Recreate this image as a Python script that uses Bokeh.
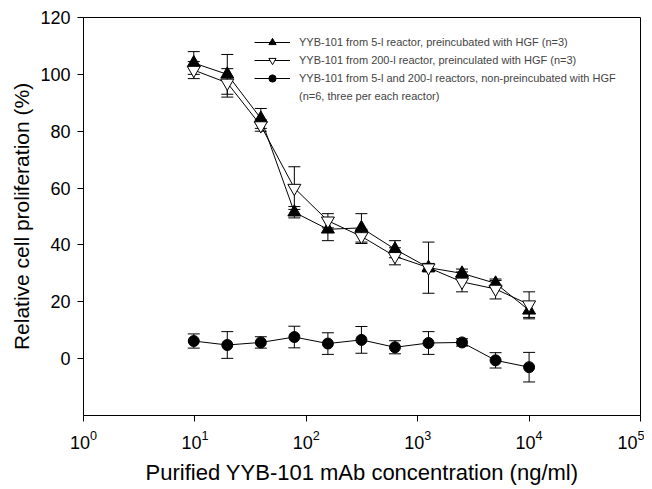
from bokeh.plotting import figure
from bokeh.models import ColumnDataSource, Whisker, TeeHead, FixedTicker, Range1d, Legend, LegendItem
from bokeh.embed import file_html
from bokeh.resources import INLINE

conc = [9.77, 19.53, 39.06, 78.125, 156.25, 312.5, 625, 1250, 2500, 5000, 10000]

s5_mean = [104, 100, 84.5, 51.5, 45.5, 46, 38.5, 32, 30, 26.5, 17]
s5_err = [4, 7, 3.5, 2, 4, 5, 3, 1.5, 1.5, 1, 3]

s200_mean = [101.5, 97, 82, 60, 48.5, 43, 36, 32, 27, 24.5, 19]
s200_err = [3, 5, 2, 7.5, 2.5, 2.5, 3, 9, 3.5, 3.5, 4.5]

non_mean = [6.2, 4.8, 5.7, 7.6, 5.3, 6.6, 4.0, 5.5, 5.7, -0.6, -3.0]
non_err = [2.5, 4.7, 2, 3.8, 3.8, 4.7, 2.3, 4, 1.3, 2.7, 5.2]

labels = [
    "YYB-101 from 5-l reactor, preincubated with HGF (n=3)",
    "YYB-101 from 200-l reactor, preinculated with HGF (n=3)",
    "YYB-101 from 5-l and 200-l reactors, non-preincubated with HGF",
    "(n=6, three per each reactor)",
]

FONT = "Liberation Sans"

p = figure(frame_width=557, frame_height=398, x_axis_type="log", output_backend="svg",
           toolbar_location=None, x_range=Range1d(1, 1e5), y_range=Range1d(-20, 120),
           min_border_left=83, min_border_right=4, min_border_top=17, min_border_bottom=66)
p.xgrid.visible = False
p.ygrid.visible = False
p.outline_line_color = "black"
p.outline_line_width = 1
p.background_fill_color = "white"
p.border_fill_color = "white"

def add_series(mean, err):
    src = ColumnDataSource(dict(x=conc, y=mean,
                                lo=[m - e for m, e in zip(mean, err)],
                                hi=[m + e for m, e in zip(mean, err)]))
    w = Whisker(source=src, base="x", upper="hi", lower="lo", dimension="height",
                line_color="black", line_width=1,
                upper_head=TeeHead(size=12, line_color="black", line_width=1),
                lower_head=TeeHead(size=12, line_color="black", line_width=1))
    p.add_layout(w)
    ln = p.line("x", "y", source=src, line_color="black", line_width=1)
    return src, ln

src5, l5 = add_series(s5_mean, s5_err)
src200, l200 = add_series(s200_mean, s200_err)
srcn, ln_ = add_series(non_mean, non_err)

m5 = p.scatter("x", "y", source=src5, marker="triangle", size=13, fill_color="black", line_color="black")
m200 = p.scatter("x", "y", source=src200, marker="inverted_triangle", size=13, fill_color="white", line_color="black")
mn = p.scatter("x", "y", source=srcn, marker="circle", size=11, fill_color="black", line_color="black")
# empty, invisible renderer used only to carry the wrapped second line of the third legend label
blank = p.scatter(x=[], y=[], size=1, fill_alpha=0, line_alpha=0)

legend = Legend(items=[
    LegendItem(label=labels[0], renderers=[l5, m5]),
    LegendItem(label=labels[1], renderers=[l200, m200]),
    LegendItem(label=labels[2], renderers=[ln_, mn]),
    LegendItem(label=labels[3], renderers=[blank]),
], location=(169, 308))
legend.background_fill_alpha = 0
legend.border_line_alpha = 0
legend.label_text_font = FONT
legend.label_text_font_size = "11px"
legend.glyph_width = 36
legend.glyph_height = 18
legend.label_standoff = 9
legend.spacing = 0
legend.padding = 2
legend.margin = 0
legend.label_height = 18
p.add_layout(legend)

p.xaxis.ticker = FixedTicker(ticks=[1, 10, 100, 1000, 10000, 100000], minor_ticks=[])
p.yaxis.ticker = FixedTicker(ticks=[0, 20, 40, 60, 80, 100, 120], minor_ticks=[])
for ax in (p.xaxis[0], p.yaxis[0]):
    ax.axis_line_color = "black"
    ax.major_tick_line_color = "black"
    ax.major_tick_out = 6
    ax.major_tick_in = 0
    ax.minor_tick_out = 0
    ax.minor_tick_in = 0
    ax.major_label_text_font = FONT
    ax.major_label_text_font_size = "18px"
    ax.major_label_text_color = "black"
    ax.axis_label_text_font = FONT
    ax.axis_label_text_font_style = "normal"
    ax.axis_label_text_color = "black"

p.xaxis.axis_label_text_font_size = "22px"
p.yaxis.axis_label_text_font_size = "21px"
p.xaxis.axis_label = "Purified YYB-101 mAb concentration (ng/ml)"
p.yaxis.axis_label = "Relative cell proliferation (%)"
p.xaxis.major_label_standoff = 8
p.yaxis.major_label_standoff = 7
p.xaxis.axis_label_standoff = 8
p.yaxis.axis_label_standoff = 4

open("out.html", "w").write(file_html(p, INLINE))
